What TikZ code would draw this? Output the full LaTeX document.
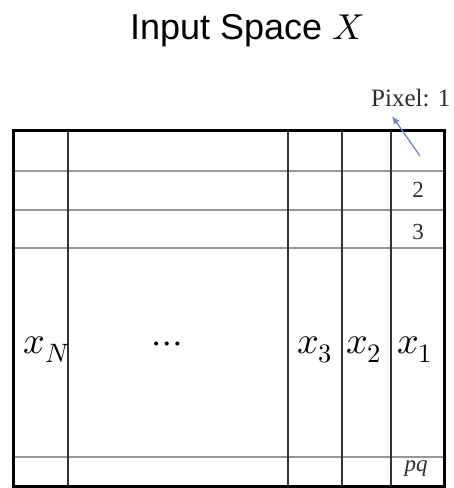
\documentclass[tikz,border=0pt]{standalone}
\usepackage{fontspec}
\usepackage{unicode-math}
\setmainfont{Liberation Serif}
\setmathfont{Latin Modern Math}
\newfontfamily\titlefont{Liberation Sans}
\usepackage{tikz}
\usetikzlibrary{arrows.meta}
\definecolor{arrowblue}{RGB}{110,135,215}
\definecolor{rowgray}{RGB}{150,150,150}
\definecolor{labgray}{RGB}{45,45,45}

\begin{document}
\begin{tikzpicture}[x=1pt,y=-1pt,>={Latex[length=8pt,width=7pt]},
  title/.style={anchor=base,font=\titlefont\fontsize{36}{42}\selectfont},
  varlab/.style={anchor=base,inner sep=0pt,font=\fontsize{38}{44}\selectfont},
  pixlab/.style={anchor=base,inner sep=0pt,text=labgray,font=\fontsize{23}{27}\selectfont},
  rowline/.style={rowgray,line width=1.4pt},
  colline/.style={black!80,line width=2.2pt},
  border/.style={black,line width=3pt},
  pixarrow/.style={->,arrowblue,line width=1.3pt}]
  \useasboundingbox (0,0) rectangle (454,488);
  \node[title] (title) at (247,39) {Input Space $X$};
  \foreach \y in {171,210,248,457}{
    \draw[rowline] (13,\y) -- (444,\y);
  }
  \foreach \x in {68,288,342,391}{
    \draw[colline] (\x,130) -- (\x,486);
  }
  \draw[border] (13,130) rectangle (444,486);
  \foreach \x/\lab/\nm in {47/x_N/xN,167/\cdots/dots,315/x_3/xthree,364/x_2/xtwo,415/x_1/xone}{
    \node[varlab] (\nm) at (\x,353) {$\lab$};
  }
  \node[pixlab,anchor=base west,font=\fontsize{25}{29}\selectfont] (pixone) at (371,106) {Pixel: 1};
  \node[pixlab] (pixtwo) at (418,197) {2};
  \node[pixlab] (pixthree) at (418,239) {3};
  \node[pixlab] (pixpq) at (416,471) {\itshape pq};
  \coordinate (tail) at (420,156);
  \coordinate (tip) at (392,116);
  \draw[pixarrow] (tail) -- (tip);
\end{tikzpicture}
\end{document}
